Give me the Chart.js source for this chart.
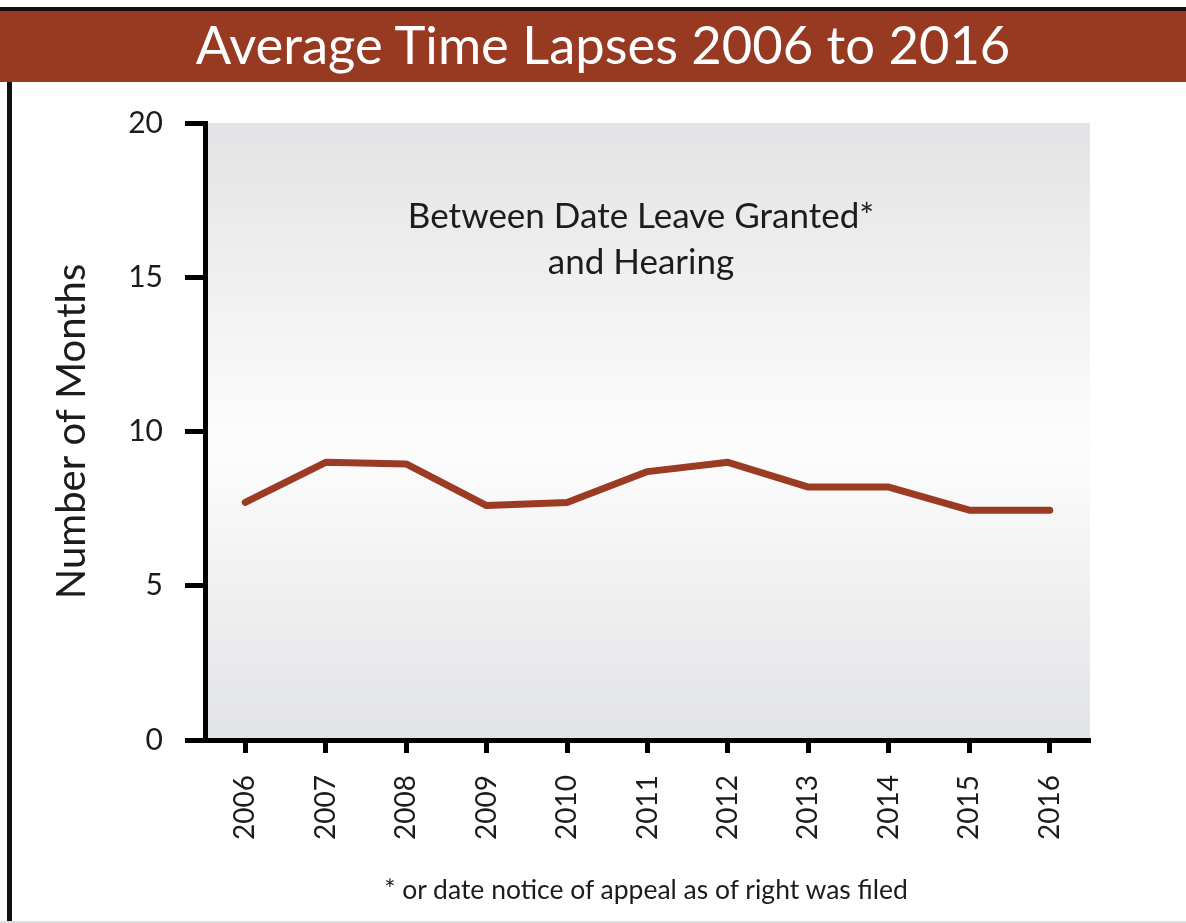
<!DOCTYPE html>
<html>
<head>
<meta charset="utf-8">
<script src="https://cdn.jsdelivr.net/npm/chart.js@4.4.0/dist/chart.umd.min.js"></script>
<style>
  html, body { margin: 0; padding: 0; background: #fff; }
  #page { position: relative; width: 1186px; height: 923px; overflow: hidden; font-family: Lato, "Open Sans", sans-serif; }
  #topline { position: absolute; left: 0; top: 7px; width: 1186px; height: 4px; background: #111; }
  #titlebar { position: absolute; left: 0; top: 11px; width: 1186px; height: 71px; background: #983a22;
    color: #fff; font-size: 52.5px; line-height: 71px; text-align: center; }
  #titlebar span { position: relative; left: 10px; top: -3px; }
  #leftline { position: absolute; left: 7px; top: 82px; width: 5px; height: 841px; background: #111; }
  #bottomline { position: absolute; left: 0; top: 921px; width: 1186px; height: 2px; background: #ddd; }
  #note { position: absolute; left: 0; top: 873px; width: 1186px; text-align: center; font-size: 26.5px; color: #1c1c1c; }
  #note span { position: relative; left: 53px; }
  canvas { position: absolute; left: 0; top: 0; }
</style>
</head>
<body>
<div id="page">
  <canvas id="lapseChart" width="1186" height="923"></canvas>
  <div id="topline"></div>
  <div id="titlebar"><span>Average Time Lapses 2006 to 2016</span></div>
  <div id="leftline"></div>
  <div id="bottomline"></div>
  <div id="note"><span>* or date notice of appeal as of right was filed</span></div>
</div>
<script>
const years = ['2006', '2007', '2008', '2009', '2010', '2011', '2012', '2013', '2014', '2015', '2016'];
const months = [7.7, 9.0, 8.95, 7.6, 7.7, 8.7, 9.0, 8.2, 8.2, 7.45, 7.45];
const yTicks = [0, 5, 10, 15, 20];
const noteLines = ['Between Date Leave Granted*', 'and Hearing'];

// gray-white-gray backdrop behind the plot plus the caption inside it
const plotDecor = {
  id: 'plotDecor',
  beforeDraw(chart) {
    const { ctx, chartArea: a } = chart;
    const g = ctx.createLinearGradient(0, a.top, 0, a.bottom);
    g.addColorStop(0, '#e3e3e5');
    g.addColorStop(0.52, '#fdfdfd');
    g.addColorStop(1, '#e2e3e5');
    ctx.save();
    ctx.fillStyle = g;
    ctx.fillRect(a.left, a.top, a.right - a.left, a.bottom - a.top);
    ctx.restore();
  },
  afterDatasetsDraw(chart) {
    const { ctx, chartArea: a } = chart;
    ctx.save();
    ctx.font = '35px Lato';
    ctx.fillStyle = '#1c1c1c';
    ctx.textAlign = 'center';
    ctx.textBaseline = 'alphabetic';
    const cx = a.left + 436;
    ctx.fillText(noteLines[0], cx, a.top + 105);
    ctx.fillText(noteLines[1], cx, a.top + 151);
    ctx.restore();
  }
};

const ctx = document.getElementById('lapseChart').getContext('2d');
new Chart(ctx, {
  type: 'line',
  data: {
    labels: years,
    datasets: [{
      label: 'Months',
      data: months,
      borderColor: '#9b3b24',
      borderWidth: 7,
      pointRadius: 0,
      tension: 0,
      fill: false,
      borderCapStyle: 'round',
      borderJoinStyle: 'round'
    }]
  },
  options: {
    responsive: false,
    animation: false,
    layout: { padding: { top: 123, right: 96, bottom: 0, left: 0 } },
    plugins: {
      legend: { display: false },
      tooltip: { enabled: false }
    },
    scales: {
      x: {
        offset: true,
        afterFit: s => { s.height = 183; },
        border: { color: '#000', width: 5 },
        grid: { offset: false, drawOnChartArea: false, drawTicks: true, tickLength: 13, tickWidth: 5, tickColor: '#000' },
        ticks: {
          color: '#1c1c1c',
          font: { family: 'Lato', size: 28 },
          minRotation: 90,
          maxRotation: 90,
          autoSkip: false,
          padding: 22
        }
      },
      y: {
        min: 0,
        max: 20,
        afterFit: s => { s.width = 205; },
        afterBuildTicks: s => { s.ticks = yTicks.map(v => ({ value: v })); },
        border: { color: '#000', width: 5 },
        grid: { drawOnChartArea: false, drawTicks: true, tickLength: 20, tickWidth: 5, tickColor: '#000' },
        ticks: {
          color: '#1c1c1c',
          font: { family: 'Lato', size: 30 },
          padding: 22
        },
        title: {
          display: true,
          text: 'Number of Months',
          color: '#1c1c1c',
          font: { family: 'Lato', size: 40 },
          padding: { top: 48, bottom: 0 }
        }
      }
    }
  },
  plugins: [plotDecor]
});
</script>
</body>
</html>
